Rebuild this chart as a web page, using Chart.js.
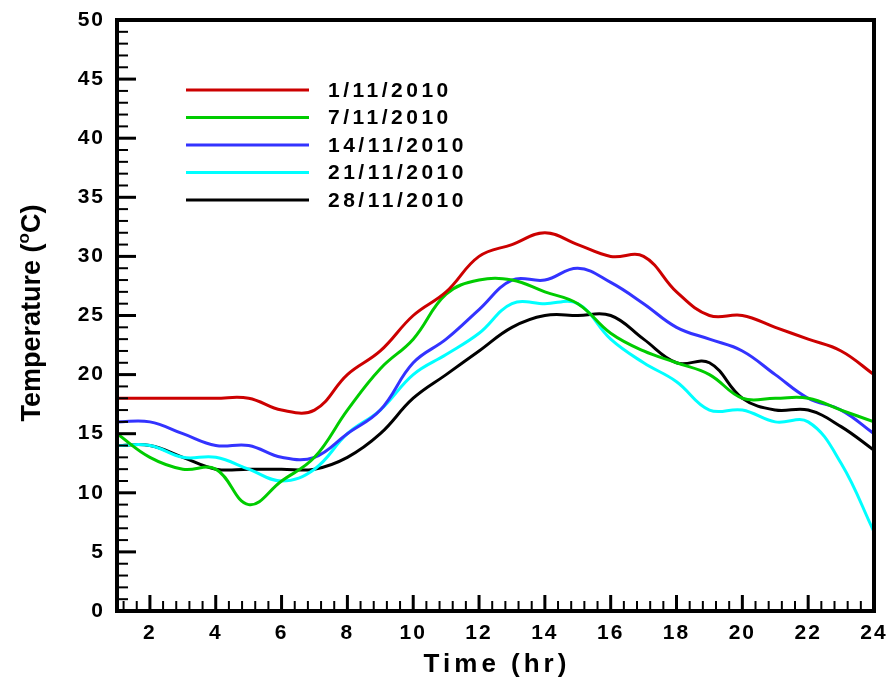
<!DOCTYPE html>
<html>
<head>
<meta charset="utf-8">
<script src="https://cdn.jsdelivr.net/npm/chart.js@4"></script>
<style>
  body { margin: 0; background: #fff; }
  #wrap { width: 889px; height: 686px; }
</style>
</head>
<body>
<div id="wrap"><canvas id="myChart"></canvas></div>
<script>
// DATA
const hours = [1,2,3,4,5,6,7,8,9,10,11,12,13,14,15,16,17,18,19,20,21,22,23,24];
const labels = ["1/11/2010", "7/11/2010", "14/11/2010", "21/11/2010", "28/11/2010"];
const day1 = [18,18,18,18,18,17,17,20,22,25,27,30,31,32,31,30,30,27,25,25,24,23,22,20];
const day7 = [15,13,12,12,9,11,13,17,20.5,23,26.8,28,28,27,26,23.5,22,21,20,18,18,18,17,16];
const day14 = [16,16,15,14,14,13,13,15,17,21,23,25.5,28,28,29,27.8,26,24,23,22,20,18,17,15];
const day21 = [14,14,13,13,12,11,12,15,17,20,21.7,23.5,26,26,26,23,21,19.4,17,17,16,16,12.5,6.7];
const day28 = [14,14,13,12,12,12,12,13,15,18,20,22,24,25,25,25,23,21,21,18,17,17,15.6,13.6];
const xTicks = [2,4,6,8,10,12,14,16,18,20,22,24];
const yTicks = [0,5,10,15,20,25,30,35,40,45,50];

const colors = ["#cc0000", "#00cc00", "#3333ff", "#00ffff", "#000000"];
const series = [day1, day7, day14, day21, day28];

const FONT = '"Liberation Sans", Arial, sans-serif';

// frame, inward ticks, legend and axis titles
const framePlugin = {
  id: "frame",
  beforeDraw(chart) {
    chart.ctx.letterSpacing = "2px"; // wider tick labels
  },
  afterDatasetsDraw(chart) {
    const ctx = chart.ctx;
    const a = chart.chartArea;
    const xs = chart.scales.x;
    const ys = chart.scales.y;
    ctx.save();
    ctx.strokeStyle = "#000";
    // minor / major ticks on left axis
    for (let v = ys.min; v <= ys.max; v += 1) {
      const y = ys.getPixelForValue(v);
      const major = v % 5 === 0;
      ctx.lineWidth = major ? 3 : 2;
      ctx.beginPath();
      ctx.moveTo(a.left, y);
      ctx.lineTo(a.left + (major ? 19 : 11), y);
      ctx.stroke();
    }
    // bottom axis
    for (let i = 0; i <= 57; i++) {
      const v = 1.2 + i * 0.4;
      if (v > xs.max) break;
      const x = xs.getPixelForValue(v);
      const major = Math.abs(v / 2 - Math.round(v / 2)) < 0.01;
      ctx.lineWidth = major ? 3 : 2;
      ctx.beginPath();
      ctx.moveTo(x, a.bottom);
      ctx.lineTo(x, a.bottom - (major ? 16 : 10));
      ctx.stroke();
    }
    ctx.lineWidth = 4;
    ctx.strokeRect(a.left, a.top, a.right - a.left, a.bottom - a.top);
    ctx.restore();
  },
  afterDraw(chart) {
    const ctx = chart.ctx;
    ctx.save();
    // legend
    chart.data.datasets.forEach(function (ds, i) {
      const y = 90 + i * 27.5;
      ctx.strokeStyle = ds.borderColor;
      ctx.lineWidth = 3;
      ctx.beginPath();
      ctx.moveTo(186, y);
      ctx.lineTo(309, y);
      ctx.stroke();
      ctx.fillStyle = "#000";
      ctx.font = "bold 21px " + FONT;
      ctx.letterSpacing = "3.5px";
      ctx.textAlign = "left";
      ctx.textBaseline = "middle";
      ctx.fillText(ds.label, 328, y + 1);
    });
    // x title
    ctx.font = "bold 26px " + FONT;
    ctx.letterSpacing = "4px";
    ctx.textAlign = "center";
    ctx.textBaseline = "middle";
    ctx.fillText("Time (hr)", 497, 665);
    // y title with superscript o
    ctx.letterSpacing = "0px";
    ctx.translate(33, 313);
    ctx.rotate(-Math.PI / 2);
    ctx.textAlign = "left";
    const big = "bold 27px " + FONT;
    const small = "bold 17px " + FONT;
    ctx.font = big;
    const w1 = ctx.measureText("Temperature (").width;
    const w3 = ctx.measureText("C)").width;
    ctx.font = small;
    const w2 = ctx.measureText("o").width;
    let x = -(w1 + w2 + w3) / 2;
    ctx.font = big;
    ctx.fillText("Temperature (", x, 0);
    x += w1;
    ctx.font = small;
    ctx.fillText("o", x, -9);
    x += w2;
    ctx.font = big;
    ctx.fillText("C)", x, 0);
    ctx.restore();
  }
};

function noOverflow(scale) {
  scale.paddingLeft = 0;
  scale.paddingRight = 0;
  scale.paddingTop = 0;
  scale.paddingBottom = 0;
}

const ctx = document.getElementById("myChart");

new Chart(ctx, {
  type: "line",
  data: {
    datasets: series.map(function (s, i) {
      return {
        label: labels[i],
        data: hours.map(function (h, j) { return { x: h, y: s[j] }; }),
        borderColor: colors[i],
        borderWidth: 3,
        pointRadius: 0,
        tension: 0.4,
        fill: false
      };
    })
  },
  options: {
    responsive: true,
    maintainAspectRatio: false,
    animation: false,
    layout: { padding: { top: 20, right: 15, left: 0, bottom: 0 } },
    plugins: {
      legend: { display: false },
      tooltip: { enabled: false }
    },
    scales: {
      x: {
        type: "linear",
        min: 1,
        max: 24,
        grid: { display: false, drawTicks: false },
        border: { display: false },
        afterBuildTicks: function (scale) {
          scale.ticks = xTicks.map(function (v) { return { value: v }; });
        },
        afterFit: function (scale) { scale.height = 75; noOverflow(scale); },
        ticks: {
          padding: 10,
          color: "#000",
          maxRotation: 0,
          autoSkip: false,
          font: { family: FONT, size: 21, weight: "bold" }
        }
      },
      y: {
        min: 0,
        max: 50,
        grid: { display: false, drawTicks: false },
        border: { display: false },
        afterBuildTicks: function (scale) {
          scale.ticks = yTicks.map(function (v) { return { value: v }; });
        },
        afterFit: function (scale) { scale.width = 117; noOverflow(scale); },
        ticks: {
          padding: 12,
          color: "#000",
          font: { family: FONT, size: 21, weight: "bold" }
        }
      }
    }
  },
  plugins: [framePlugin]
});
</script>
</body>
</html>
